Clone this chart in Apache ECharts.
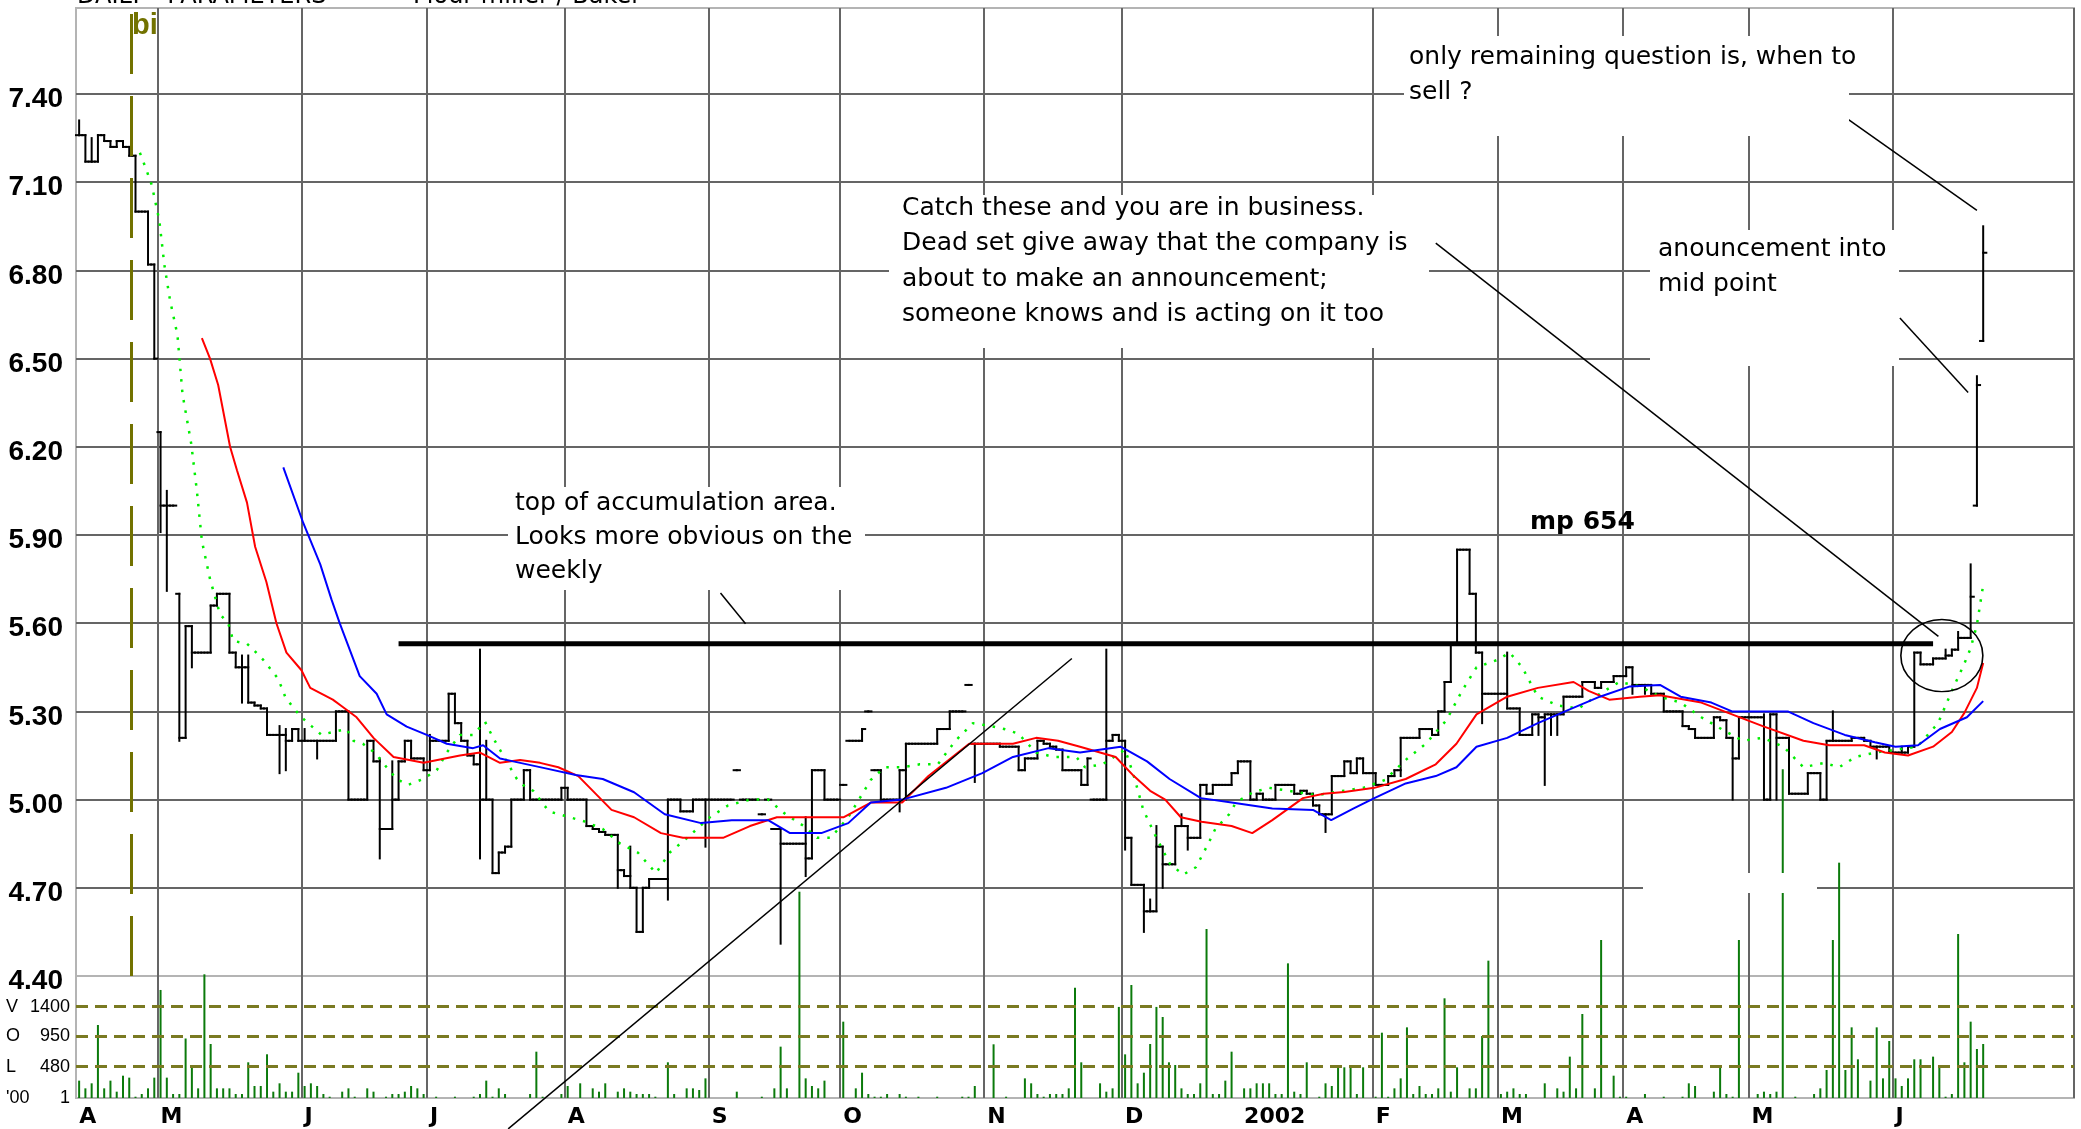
<!DOCTYPE html>
<html><head><meta charset="utf-8">
<script src="https://cdn.jsdelivr.net/npm/echarts@6/dist/echarts.min.js"></script>
<style>html,body{margin:0;padding:0;background:#fff;overflow:hidden}#c{width:2081px;height:1129px;}</style>
</head><body><div id="c"></div><script>
// ---------- DATA ----------
const monthLabels   = ['A','M','J','J','A','S','O','N','D','2002','F','M','A','M','J'];
const monthLabelDay = [0,13,36,56,78,101,122,145,167,186,207,227,247,267,290];
const monthLineDay  = [13,36,56,78,101,122,145,167,207,227,247,267,290];
const priceMin = 4.40, priceStep = 0.30, priceTop = 7.6925;
const volLevels = [1400, 950, 480];
const volLevelNames = ['V', 'O', 'L'];

const close = [
7.26,7.17,7.17,7.26,7.24,7.22,7.24,7.22,7.19,7.00,
7.00,6.82,6.50,6.00,6.00,6.00,5.21,5.59,5.50,5.50,
5.50,5.66,5.70,5.70,5.50,5.45,5.45,5.33,5.32,5.31,
5.22,5.22,5.22,5.20,5.24,5.20,5.20,5.20,5.20,5.20,
5.20,5.30,5.30,5.00,5.00,5.00,5.20,5.13,4.90,4.90,
5.00,5.13,5.20,5.14,5.14,5.10,5.20,5.20,5.20,5.36,
5.26,5.20,5.15,5.12,5.00,5.00,4.75,4.82,4.84,5.00,
5.00,5.10,5.00,5.00,5.00,5.00,5.00,5.04,5.00,5.00,
5.00,4.91,4.90,4.89,4.88,4.88,4.76,4.74,4.70,4.55,
4.70,4.73,4.73,4.73,5.00,5.00,4.96,4.96,5.00,5.00,
5.00,5.00,5.00,5.00,5.00,5.10,5.00,5.00,5.00,4.95,
5.00,4.90,4.85,4.85,4.85,4.85,4.80,5.10,5.10,5.00,
5.00,5.00,5.05,5.20,5.20,5.24,5.30,5.10,5.00,5.00,
5.00,5.10,5.19,5.19,5.19,5.19,5.19,5.24,5.24,5.30,
5.30,5.30,5.39,5.19,5.19,5.19,5.19,5.18,5.18,5.18,
5.10,5.14,5.14,5.20,5.19,5.18,5.17,5.10,5.10,5.10,
5.05,5.14,5.00,5.00,5.20,5.22,5.20,4.87,4.71,4.71,
4.62,4.62,4.84,4.78,4.78,4.91,4.91,4.87,4.87,5.05,
5.02,5.05,5.05,5.05,5.09,5.13,5.13,5.00,5.02,5.00,
5.00,5.05,5.05,5.05,5.02,5.03,5.02,4.98,4.95,4.95,
5.08,5.08,5.13,5.09,5.14,5.09,5.09,5.05,5.05,5.08,
5.10,5.21,5.21,5.21,5.24,5.24,5.22,5.30,5.40,5.53,
5.85,5.85,5.70,5.50,5.36,5.36,5.36,5.36,5.31,5.31,
5.22,5.22,5.29,5.28,5.29,5.29,5.29,5.35,5.35,5.35,
5.40,5.40,5.38,5.40,5.40,5.42,5.42,5.45,5.39,5.39,
5.39,5.36,5.36,5.30,5.30,5.30,5.25,5.24,5.21,5.21,
5.21,5.28,5.27,5.21,5.14,5.28,5.28,5.28,5.28,5.00,
5.29,5.21,5.21,5.02,5.02,5.02,5.09,5.09,5.00,5.20,
5.20,5.20,5.20,5.21,5.21,5.20,5.18,5.18,5.18,5.16,
5.16,5.16,5.18,5.50,5.46,5.46,5.48,5.48,5.49,5.51,
5.55,5.55,5.69,6.41,6.86];

const spikeDay  = [0,2,13,14,16,17,18,26,27,32,33,36,38,43,48,50,56,59,64,65,86,88,89,94,100,112,116,117,131,132,143,161,164,167,170,171,172,173,176,177,199,200,211,220,223,224,228,232,233,234,235,236,248,250,261,264,269,270,271,273,278,279,280,287,291,293,298,300,302,303,304];
const spikeHigh = [7.31,7.25,6.25,6.05,5.70,null,5.59,5.49,5.49,5.25,5.24,5.24,null,5.25,5.14,5.13,5.22,null,5.51,5.20,null,4.84,4.66,null,null,4.90,4.94,null,null,null,null,null,5.51,5.03,null,4.66,4.91,null,4.95,null,null,null,null,null,5.56,null,5.50,null,null,null,null,null,null,null,null,null,5.29,null,null,5.13,5.09,null,5.30,null,5.18,null,5.51,5.57,5.80,6.44,6.95];
const spikeLow  = [null,null,5.91,5.71,5.20,5.21,5.45,5.33,null,5.09,5.10,null,5.14,null,4.80,null,null,5.25,4.80,null,4.70,null,null,4.66,4.84,4.51,4.74,4.90,4.96,5.00,5.06,5.05,5.18,4.83,4.55,null,null,4.70,null,4.83,4.89,5.00,5.08,5.60,null,5.26,null,5.23,5.22,5.05,5.22,5.22,5.36,5.36,5.21,5.00,null,5.00,5.00,null,null,5.00,null,5.14,null,5.30,null,null,5.59,6.00,6.56];
const gapDay  = [13,16,105,106,109,110,111,122,123,126,127,142,143,162,303,304];
const gapOpen = [6.25,5.70,5.10,5.00,4.95,5.00,4.90,5.05,5.20,5.30,5.10,5.39,5.19,5.00,6.00,6.56];

const volume = [
266,148,225,1119,148,266,97,342,312,20,
61,148,312,1656,312,61,61,912,470,148,
1896,828,148,148,148,61,61,547,184,184,
670,97,225,97,97,388,184,225,184,61,
20,0,97,148,20,0,148,97,0,20,
61,61,97,184,148,61,0,20,0,0,
20,0,0,20,61,266,20,148,61,0,
0,0,61,710,20,0,0,61,184,0,
225,0,148,97,225,0,97,148,97,61,
61,61,20,0,547,61,0,148,148,123,
301,0,0,0,0,97,0,0,0,20,
0,148,787,148,0,3162,301,184,148,266,
0,0,1170,0,148,388,61,20,20,61,
0,61,20,0,20,0,0,20,0,0,
0,20,20,184,0,0,823,0,20,0,
0,301,225,61,20,61,61,61,148,1691,
547,0,0,225,97,148,1396,669,1732,225,
388,828,1396,1242,547,506,148,61,61,225,
2590,61,61,266,710,0,148,148,225,225,
225,61,61,2064,97,61,547,0,20,225,
184,470,470,506,61,470,0,20,1001,20,
148,301,1083,61,184,61,61,148,1528,97,
470,0,148,148,950,2105,0,61,97,148,
61,61,0,0,225,0,148,97,634,148,
1288,0,148,2422,0,342,20,20,0,0,
61,0,0,20,0,0,20,225,184,0,
0,97,470,61,20,2422,0,0,61,97,
61,97,5040,0,20,0,0,61,148,429,
2422,3607,429,1083,593,0,266,1083,301,874,
301,184,301,593,593,0,634,470,20,61,
2514,547,1170,751,828];

const maRed = [[19.6,6.57],[20.9,6.50],[22.2,6.41],[24.1,6.20],[25.2,6.12],[26.8,6.01],[28.1,5.86],[29.9,5.74],[31.5,5.60],[33.1,5.50],[35.5,5.44],[36.9,5.38],[40.5,5.34],[42.1,5.315],[44.3,5.28],[47,5.21],[50.2,5.145],[55,5.125],[60.8,5.15],[64,5.16],[67.2,5.125],[70.4,5.135],[73.6,5.125],[76.5,5.11],[79.7,5.08],[85,4.965],[88.6,4.94],[92.9,4.886],[96.4,4.87],[102.8,4.87],[107.1,4.91],[111.4,4.94],[117,4.94],[122.1,4.94],[126.4,4.99],[131.4,4.99],[135.6,5.08],[142.1,5.19],[149.1,5.19],[152.8,5.21],[156.3,5.20],[159.8,5.18],[165.5,5.145],[168.4,5.08],[171,5.03],[173.4,5.00],[175.9,4.94],[179.2,4.925],[184,4.91],[187.3,4.886],[190.5,4.93],[195.4,5.005],[198.7,5.02],[202,5.026],[206.8,5.04],[211.8,5.07],[216.6,5.12],[219.9,5.19],[223.1,5.29],[228,5.35],[232.9,5.38],[238.6,5.40],[241,5.37],[244.3,5.34],[249.2,5.35],[252.4,5.355],[259,5.33],[263.9,5.29],[268.8,5.25],[275.3,5.20],[279.4,5.185],[285,5.185],[288.3,5.16],[292,5.15],[296,5.18],[299,5.23],[301,5.295],[303,5.38],[304,5.465]];
const maBlue = [[32.6,6.13],[35.8,5.94],[38.5,5.80],[40.3,5.68],[41.6,5.60],[44.8,5.42],[47.5,5.36],[49.1,5.29],[52.3,5.248],[55.5,5.22],[58.7,5.19],[62.9,5.175],[64.5,5.185],[67.2,5.14],[69.3,5.13],[74.3,5.107],[79.3,5.084],[83.6,5.07],[88.6,5.025],[93.5,4.95],[99.3,4.92],[104.2,4.93],[110,4.93],[113.5,4.886],[118.5,4.886],[122.8,4.92],[126.4,4.99],[131.4,5.00],[138.4,5.04],[144.2,5.09],[149.1,5.145],[154.8,5.175],[159.8,5.16],[166.3,5.18],[170.5,5.13],[174.1,5.07],[179.1,5.005],[184,4.99],[190.5,4.97],[197,4.965],[199.9,4.93],[203.5,4.97],[206.8,5.005],[211.8,5.055],[216.6,5.08],[219.9,5.11],[223.1,5.18],[228,5.21],[232.9,5.26],[237.8,5.305],[242.8,5.35],[247.6,5.385],[252.4,5.39],[255.7,5.35],[260.6,5.33],[263.9,5.30],[272.8,5.30],[276.9,5.26],[281.9,5.22],[286.7,5.195],[290,5.18],[293.6,5.185],[297.1,5.24],[301.4,5.28],[304,5.335]];
const maGreen = [[9.7,7.20],[10.6,7.15],[11.6,7.09],[12.8,6.97],[13.6,6.82],[14.5,6.70],[15.7,6.58],[16.5,6.38],[17.9,6.21],[18.8,6.05],[19.6,5.88],[20.9,5.75],[22.5,5.63],[23.8,5.60],[24.6,5.54],[26.8,5.53],[27.8,5.51],[29.4,5.475],[30.7,5.44],[31.8,5.41],[32.9,5.35],[34.1,5.315],[35.5,5.28],[37.1,5.25],[38.7,5.22],[40.5,5.23],[42.7,5.24],[43.8,5.20],[45.3,5.19],[47.2,5.16],[49.1,5.11],[50.7,5.07],[52.5,5.05],[54.9,5.07],[57.1,5.10],[58.7,5.16],[60.8,5.22],[62.9,5.22],[64.8,5.265],[66.1,5.21],[66.9,5.18],[68.8,5.11],[69.9,5.07],[71.2,5.044],[72.5,5.03],[75,4.96],[80.8,4.925],[83.6,4.90],[86.4,4.85],[89.2,4.82],[92.1,4.75],[94.3,4.82],[97.1,4.87],[100.7,4.94],[103.6,4.98],[107.1,5.00],[110,5.00],[112.8,4.95],[115.7,4.91],[117.8,4.87],[120,4.87],[122.8,4.94],[126.4,5.067],[128.6,5.11],[131.4,5.11],[134.2,5.12],[137.1,5.12],[139.9,5.20],[142.7,5.26],[145.6,5.25],[147.7,5.24],[149.9,5.225],[152.8,5.16],[155.6,5.145],[159.2,5.145],[160.6,5.11],[163.4,5.12],[167,5.17],[168.4,5.08],[169.9,4.965],[172,4.87],[174.2,4.78],[176.3,4.745],[178.3,4.77],[179.3,4.81],[180.5,4.86],[181.4,4.90],[183.6,4.95],[184.7,4.99],[187.4,5.025],[190,5.04],[194.6,5.025],[197.6,5.015],[201,5.027],[205,5.04],[208.5,5.067],[211.8,5.135],[215,5.19],[218.3,5.27],[220.8,5.37],[223.1,5.45],[226.4,5.475],[228.4,5.50],[230.4,5.45],[232.9,5.35],[236.1,5.32],[239.4,5.31],[242.8,5.36],[245.9,5.40],[249.2,5.385],[252.4,5.35],[255.7,5.33],[259,5.28],[262.2,5.24],[265.6,5.20],[268.8,5.21],[272.1,5.18],[275.3,5.11],[278.6,5.125],[281,5.11],[283.6,5.145],[286.7,5.16],[290,5.17],[293.5,5.18],[296.8,5.26],[299,5.37],[300.9,5.458],[302,5.515],[303,5.595],[304,5.73]];

const accumLine   = [[51, 5.53], [296, 5.53]];
const trendLine   = [[68.5, 3.88], [158.5, 5.48]];
const ptrAccum    = [[102.4, 5.703], [106.4, 5.598]];
const ptrCatch    = [[216.6, 6.893], [296.85, 5.555]];
const ptrQuestion = [[282.5, 7.313], [303.0, 7.004]];
const ptrAnnounce = [[290.7, 6.638], [301.6, 6.385]];
const circleMark  = [[297.4, 5.49]];
const biDay = 8.36;

// ---------- BUILD ----------
const N = 319;
const FONT = '"Liberation Sans", Arial, sans-serif';
const NOTE_FONT = '"DejaVu Sans", "Liberation Sans", sans-serif';
const catData = Array.from({length: N}, (_, i) => String(i));
const labelMap = {};
monthLabelDay.forEach((d, k) => { labelMap[d] = monthLabels[k]; });

const ohlc = close.map((c, i) => {
  let o = i === 0 ? c : close[i - 1];
  const g = gapDay.indexOf(i);
  if (g >= 0) o = gapOpen[g];
  let hi = Math.max(o, c), lo = Math.min(o, c);
  const s = spikeDay.indexOf(i);
  if (s >= 0) {
    if (spikeHigh[s] != null) hi = Math.max(hi, spikeHigh[s]);
    if (spikeLow[s] != null) lo = Math.min(lo, spikeLow[s]);
  }
  return [i, o, c, lo, hi];
});

const gridColors = ['#b4b4b4'];
for (let k = 0; k < 10; k++) gridColors.push('#656565');
gridColors.push('#b4b4b4', '#b4b4b4');

function ptrSeries(data) {
  return {type: 'line', xAxisIndex: 1, yAxisIndex: 0, data: data, symbol: 'none', clip: false, silent: true,
    lineStyle: {color: '#000', width: 1.5}, z: 6};
}

const volRich = {
  a: {width: 22, align: 'left', fontSize: 18, fontFamily: FONT, color: '#000'},
  b: {width: 42, align: 'right', fontSize: 18, fontFamily: FONT, color: '#000'}
};

const option = {
  animation: false,
  backgroundColor: '#ffffff',
  textStyle: {fontFamily: FONT},
  grid: [
    {left: 76, right: 7, top: 8, height: 968, show: true, borderColor: '#b4b4b4', borderWidth: 2, backgroundColor: 'transparent'},
    {left: 76, right: 7, top: 976, height: 122, show: true, borderColor: '#b4b4b4', borderWidth: 2, backgroundColor: 'transparent'}
  ],
  xAxis: [
    {type: 'category', gridIndex: 0, data: catData, boundaryGap: true,
     axisLine: {show: false}, axisTick: {show: false}, axisLabel: {show: false},
     splitLine: {show: true, interval: (i) => monthLineDay.includes(i), lineStyle: {color: '#656565', width: 2}}},
    {type: 'value', gridIndex: 0, min: -0.5, max: N - 0.5, show: false, splitLine: {show: false}},
    {type: 'category', gridIndex: 1, data: catData, boundaryGap: true,
     axisLine: {show: false}, axisTick: {show: false},
     axisLabel: {show: true, interval: (i) => labelMap[i] !== undefined, formatter: (v) => labelMap[+v] || '',
       align: 'left', margin: 8, fontFamily: '"DejaVu Sans", sans-serif', fontWeight: 'bold', fontSize: 22, color: '#000'},
     splitLine: {show: true, interval: (i) => monthLineDay.includes(i), lineStyle: {color: '#656565', width: 2}}},
    {type: 'value', gridIndex: 1, min: -0.5, max: N - 0.5, show: false, splitLine: {show: false}}
  ],
  yAxis: [
    {type: 'value', gridIndex: 0, min: priceMin, max: priceTop, interval: priceStep,
     axisLine: {show: false}, axisTick: {show: false},
     axisLabel: {show: true, margin: 13, formatter: (v) => v > 7.45 ? '' : v.toFixed(2),
       verticalAlign: 'top', lineHeight: 11,
       fontFamily: FONT, fontWeight: 'bold', fontSize: 28, color: '#000'},
     splitLine: {show: true, lineStyle: {color: gridColors, width: 2}}},
    {type: 'value', gridIndex: 1, min: 0, max: 1870, show: false, splitLine: {show: false}}
  ],
  series: [
    {type: 'bar', name: 'volume', xAxisIndex: 3, yAxisIndex: 1, data: volume.map((v, i) => [i, v]),
     barWidth: 2, itemStyle: {color: '#0b7a0b'}, clip: false, z: 2, silent: true,
     markLine: {silent: true, symbol: ['none', 'none'],
       lineStyle: {color: '#7a7a22', width: 3, type: [12, 7]},
       label: {show: true, position: 'start', distance: 6, formatter: (p) => p.name, rich: volRich},
       data: volLevels.map((v, k) => ({yAxis: v, name: '{a|' + volLevelNames[k] + '}{b|' + v + '}'}))
         .concat([{yAxis: 1, name: "{a|'00}{b|1}", lineStyle: {color: 'rgba(0,0,0,0)', width: 0}}])}},
    {type: 'custom', name: 'price', xAxisIndex: 1, yAxisIndex: 0, data: ohlc, silent: true, z: 3,
     encode: {x: 0, y: [1, 2, 3, 4]},
     renderItem: function (params, api) {
       const x = api.value(0);
       const pO = api.coord([x, api.value(1)]);
       const pC = api.coord([x, api.value(2)]);
       const pL = api.coord([x, api.value(3)]);
       const pH = api.coord([x, api.value(4)]);
       const hw = api.size([1, 0])[0] / 2;
       const st = {stroke: '#000', lineWidth: 2, lineCap: 'square'};
       return {type: 'group', children: [
         {type: 'line', shape: {x1: pL[0], y1: pL[1], x2: pH[0], y2: pH[1]}, style: st},
         {type: 'line', shape: {x1: pO[0] - hw, y1: pO[1], x2: pO[0], y2: pO[1]}, style: st},
         {type: 'line', shape: {x1: pC[0], y1: pC[1], x2: pC[0] + hw, y2: pC[1]}, style: st}
       ]};
     }},
    {type: 'line', name: 'ma short', xAxisIndex: 1, yAxisIndex: 0, data: maGreen, symbol: 'none', silent: true, z: 4,
     lineStyle: {color: '#00ee00', width: 2.5, type: [2.5, 8]}},
    {type: 'line', name: 'ma medium', xAxisIndex: 1, yAxisIndex: 0, data: maRed, symbol: 'none', silent: true, z: 4,
     lineStyle: {color: '#ff0000', width: 2}},
    {type: 'line', name: 'ma long', xAxisIndex: 1, yAxisIndex: 0, data: maBlue, symbol: 'none', silent: true, z: 4,
     lineStyle: {color: '#0000ff', width: 2}},
    {type: 'line', name: 'accumulation', xAxisIndex: 1, yAxisIndex: 0, data: accumLine, symbol: 'none', silent: true, z: 5,
     lineStyle: {color: '#000', width: 5},
     markLine: {silent: true, symbol: ['none', 'none'], label: {show: false},
       lineStyle: {color: '#727200', width: 3, type: [60, 22]}, data: [{xAxis: biDay}]}},
    {type: 'line', name: 'trend', xAxisIndex: 1, yAxisIndex: 0, data: trendLine, symbol: 'none', clip: false, silent: true, z: 6,
     lineStyle: {color: '#000', width: 1.5}},
    ptrSeries(ptrAccum), ptrSeries(ptrCatch), ptrSeries(ptrQuestion), ptrSeries(ptrAnnounce),
    {type: 'custom', name: 'circle', xAxisIndex: 1, yAxisIndex: 0, data: circleMark, silent: true, z: 6, clip: false,
     encode: {x: 0, y: 1},
     renderItem: function (params, api) {
       const p = api.coord([api.value(0), api.value(1)]);
       return {type: 'circle', x: p[0], y: p[1], scaleY: 0.88, shape: {cx: 0, cy: 0, r: 41},
         style: {fill: 'none', stroke: '#000', lineWidth: 1.6}};
     }}
  ],
  graphic: [
    {type: 'text', x: 77, y: 9, z: 20, style: {text: 'DAILY - PARAMETERS', fontSize: 24, fontFamily: NOTE_FONT, fill: '#000', verticalAlign: 'bottom'}},
    {type: 'text', x: 413, y: 9, z: 20, style: {text: 'Flour miller / Baker', fontSize: 24, fontFamily: NOTE_FONT, fill: '#000', verticalAlign: 'bottom'}},
    {type: 'text', x: 132, y: 11, z: 20, style: {text: 'bi', fontSize: 29, fontWeight: 'bold', fontFamily: FONT, fill: '#727200'}},
    {type: 'rect', z: 10, shape: {x: 1404, y: 36, width: 445, height: 100}, style: {fill: '#fff'}},
    {type: 'rect', z: 10, shape: {x: 889, y: 195, width: 540, height: 153}, style: {fill: '#fff'}},
    {type: 'rect', z: 10, shape: {x: 508, y: 487, width: 357, height: 103}, style: {fill: '#fff'}},
    {type: 'rect', z: 10, shape: {x: 1650, y: 230, width: 249, height: 136}, style: {fill: '#fff'}},
    {type: 'rect', z: 10, shape: {x: 1643, y: 873, width: 174, height: 20}, style: {fill: '#fff'}},
    {type: 'text', x: 1409, y: 39.5, z: 20, style: {text: 'only remaining question is, when to\nsell ?', fontSize: 25, lineHeight: 35, fontFamily: NOTE_FONT, fill: '#000'}},
    {type: 'text', x: 902, y: 190.5, z: 20, style: {text: 'Catch these and you are in business.\nDead set give away that the company is\nabout to make an announcement;\nsomeone knows and is acting on it too', fontSize: 25, lineHeight: 35.5, fontFamily: NOTE_FONT, fill: '#000'}},
    {type: 'text', x: 515, y: 486.5, z: 20, style: {text: 'top of accumulation area.\nLooks more obvious on the\nweekly', fontSize: 25, lineHeight: 34, fontFamily: NOTE_FONT, fill: '#000'}},
    {type: 'text', x: 1658, y: 231.5, z: 20, style: {text: 'anouncement into\nmid point', fontSize: 25, lineHeight: 35, fontFamily: NOTE_FONT, fill: '#000'}},
    {type: 'text', x: 1530, y: 504.5, z: 20, style: {text: 'mp 654', fontSize: 25, lineHeight: 35, fontWeight: 'bold', fontFamily: NOTE_FONT, fill: '#000'}}
  ]
};

const chart = echarts.init(document.getElementById('c'), null, {renderer: 'canvas'});
chart.setOption(option);
</script></body></html>
